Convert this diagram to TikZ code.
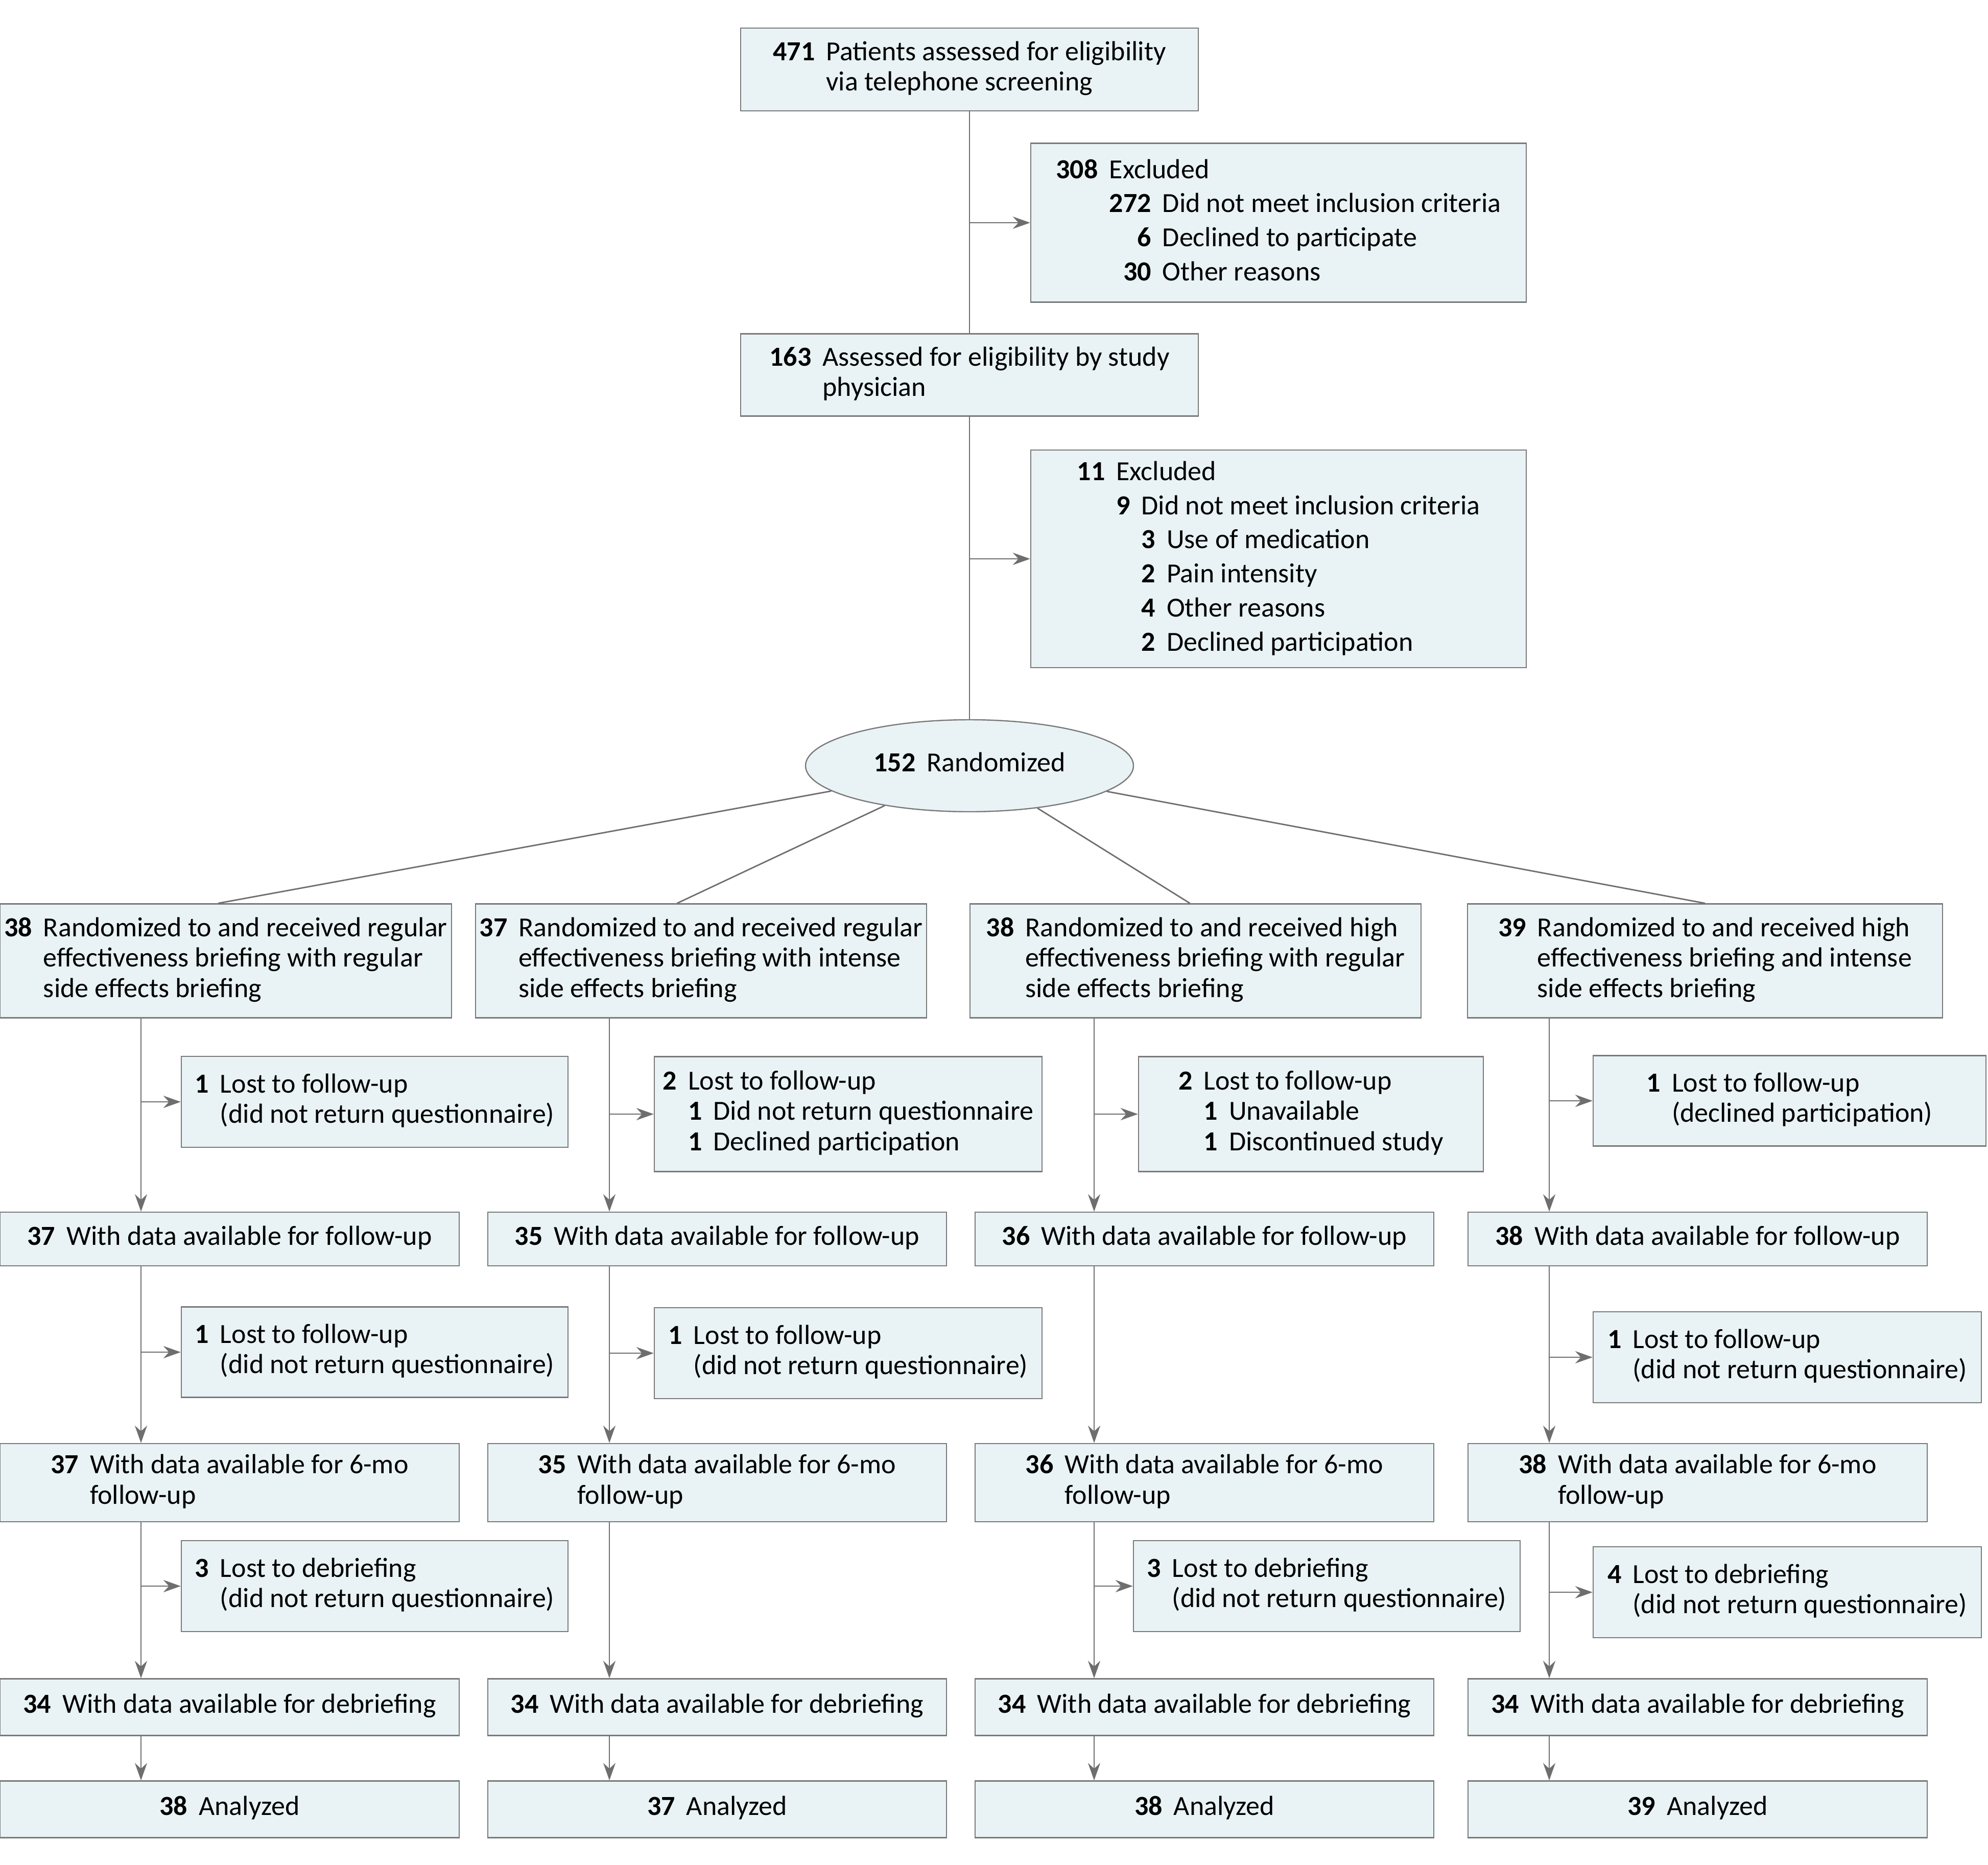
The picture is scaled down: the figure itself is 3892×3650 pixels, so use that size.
\documentclass[tikz,border=0pt]{standalone}
\usepackage{fontspec}
\setmainfont{Carlito}
\usepackage{array}
\usetikzlibrary{arrows.meta, positioning, shapes.geometric}

\definecolor{boxfill}{HTML}{E9F3F5}
\definecolor{boxline}{HTML}{7A7A7A}
\definecolor{flowline}{HTML}{6E6E6E}

% bold count, then text with hanging lines
\newcommand{\cnt}[2]{\begin{tabular}{@{}r@{\hspace{5.5pt}}l@{}}\textbf{#1} & #2\end{tabular}}

\begin{document}
\begin{tikzpicture}[
    x=0.25pt, y=-0.25pt,
    box/.style={draw=boxline, fill=boxfill, line width=0.6pt, inner sep=0pt, align=center, font=\fontsize{13.5}{14.9}\selectfont},
    exbox/.style={box, font=\fontsize{13.5}{16.7}\selectfont},
    sz/.style 2 args={minimum width=#1*0.25pt, minimum height=#2*0.25pt},
    flow/.style={draw=flowline, line width=0.7pt},
    arr/.style={flow, -{Stealth[length=8.5pt, width=6pt]}}
]
    \useasboundingbox (0,0) rectangle (3892,3650);

    % enrollment
    \node[box, sz={896}{162}] (screen) at (1898,136) {\cnt{471}{Patients assessed for eligibility\\ & via telephone screening}};
    \node[exbox, sz={970}{311}] (excl1) at (2503,436) {%
        \begin{tabular}{@{}r@{\hspace{5.5pt}}r@{\hspace{5.5pt}}l@{}}
        \textbf{308} & \multicolumn{2}{@{}l@{}}{Excluded}\\
        & \textbf{272} & Did not meet inclusion criteria\\
        & \textbf{6} & Declined to participate\\
        & \textbf{30} & Other reasons
        \end{tabular}};
    \node[box, sz={896}{161}] (phys) at (1898,734) {\cnt{163}{Assessed for eligibility by study\\ & physician}};
    \node[exbox, sz={970}{426}] (excl2) at (2503,1094) {%
        \begin{tabular}{@{}r@{\hspace{5.5pt}}r@{\hspace{5.5pt}}r@{\hspace{5.5pt}}l@{}}
        \textbf{11} & \multicolumn{3}{@{}l@{}}{Excluded}\\
        & \textbf{9} & \multicolumn{2}{@{}l@{}}{Did not meet inclusion criteria}\\
        & & \textbf{3} & Use of medication\\
        & & \textbf{2} & Pain intensity\\
        & & \textbf{4} & Other reasons\\
        & & \textbf{2} & Declined participation
        \end{tabular}};
    \node[box, ellipse, sz={642}{180}] (rand) at (1898,1499) {\cnt{152}{Randomized}};

    % allocation
    \node[box, sz={884}{223}] (arm1) at (442,1881) {\cnt{38}{Randomized to and received regular\\ & effectiveness briefing with regular\\ & side effects briefing}};
    \node[box, sz={883}{223}] (arm2) at (1372.5,1881) {\cnt{37}{Randomized to and received regular\\ & effectiveness briefing with intense\\ & side effects briefing}};
    \node[box, sz={883}{223}] (arm3) at (2340.5,1881) {\cnt{38}{Randomized to and received high\\ & effectiveness briefing with regular\\ & side effects briefing}};
    \node[box, sz={930}{223}] (arm4) at (3338,1881) {\cnt{39}{Randomized to and received high\\ & effectiveness briefing and intense\\ & side effects briefing}};

    % column lines
    \coordinate (colA) at (276,0);
    \coordinate (colB) at (1193,0);
    \coordinate (colC) at (2142,0);
    \coordinate (colD) at (3033,0);

    % losses before follow-up
    \node[box, sz={757}{178}] (lossA1) at (733.5,2157) {\cnt{1}{Lost to follow-up\\ & (did not return questionnaire)}};
    \node[box, sz={759}{225}] (lossB1) at (1660.5,2181) {%
        \begin{tabular}{@{}r@{\hspace{5.5pt}}r@{\hspace{5.5pt}}l@{}}
        \textbf{2} & \multicolumn{2}{@{}l@{}}{Lost to follow-up}\\
        & \textbf{1} & Did not return questionnaire\\
        & \textbf{1} & Declined participation
        \end{tabular}};
    \node[box, sz={675}{225}] (lossC1) at (2566.5,2181) {%
        \begin{tabular}{@{}r@{\hspace{5.5pt}}r@{\hspace{5.5pt}}l@{}}
        \textbf{2} & \multicolumn{2}{@{}l@{}}{Lost to follow-up}\\
        & \textbf{1} & Unavailable\\
        & \textbf{1} & Discontinued study
        \end{tabular}};
    \node[box, sz={769}{177}] (lossD1) at (3503.5,2155) {\cnt{1}{Lost to follow-up\\ & (declined participation)}};

    % follow-up
    \node[box, sz={899}{105}] (fuA) at (449.5,2425.5) {\cnt{37}{With data available for follow-up}};
    \node[box, sz={898}{105}] (fuB) at (1404,2425.5) {\cnt{35}{With data available for follow-up}};
    \node[box, sz={898}{105}] (fuC) at (2358,2425.5) {\cnt{36}{With data available for follow-up}};
    \node[box, sz={899}{105}] (fuD) at (3323.5,2425.5) {\cnt{38}{With data available for follow-up}};

    \node[box, sz={757}{177}] (lossA2) at (733.5,2647) {\cnt{1}{Lost to follow-up\\ & (did not return questionnaire)}};
    \node[box, sz={759}{178}] (lossB2) at (1660.5,2649) {\cnt{1}{Lost to follow-up\\ & (did not return questionnaire)}};
    \node[box, sz={760}{178}] (lossD2) at (3499,2657) {\cnt{1}{Lost to follow-up\\ & (did not return questionnaire)}};

    % 6-mo follow-up
    \node[box, sz={899}{153}] (sixA) at (449.5,2902.5) {\cnt{37}{With data available for 6-mo\\ & follow-up}};
    \node[box, sz={898}{153}] (sixB) at (1404,2902.5) {\cnt{35}{With data available for 6-mo\\ & follow-up}};
    \node[box, sz={898}{153}] (sixC) at (2358,2902.5) {\cnt{36}{With data available for 6-mo\\ & follow-up}};
    \node[box, sz={899}{153}] (sixD) at (3323.5,2902.5) {\cnt{38}{With data available for 6-mo\\ & follow-up}};

    \node[box, sz={757}{178}] (lossA3) at (733.5,3105) {\cnt{3}{Lost to debriefing\\ & (did not return questionnaire)}};
    \node[box, sz={757}{178}] (lossC3) at (2597.5,3105) {\cnt{3}{Lost to debriefing\\ & (did not return questionnaire)}};
    \node[box, sz={760}{178}] (lossD3) at (3499,3117) {\cnt{4}{Lost to debriefing\\ & (did not return questionnaire)}};

    % debriefing and analysis
    \node[box, sz={899}{111}] (debA) at (449.5,3342) {\cnt{34}{With data available for debriefing}};
    \node[box, sz={898}{111}] (debB) at (1404,3342) {\cnt{34}{With data available for debriefing}};
    \node[box, sz={898}{111}] (debC) at (2358,3342) {\cnt{34}{With data available for debriefing}};
    \node[box, sz={899}{111}] (debD) at (3323.5,3342) {\cnt{34}{With data available for debriefing}};

    \node[box, sz={899}{111}] (anaA) at (449.5,3542) {\cnt{38}{Analyzed}};
    \node[box, sz={898}{111}] (anaB) at (1404,3542) {\cnt{37}{Analyzed}};
    \node[box, sz={898}{111}] (anaC) at (2358,3542) {\cnt{38}{Analyzed}};
    \node[box, sz={899}{111}] (anaD) at (3323.5,3542) {\cnt{39}{Analyzed}};

    % connectors
    \draw[flow] (screen) -- (phys);
    \draw[flow] (phys) -- (rand);
    \draw[arr] (excl1.west -| screen) -- (excl1.west);
    \draw[arr] (excl2.west -| phys) -- (excl2.west);

    \draw[flow] (rand) -- ([xshift=-3.75pt]arm1.north);
    \draw[flow] (rand) -- ([xshift=-11.75pt]arm2.north);
    \draw[flow] (rand) -- ([xshift=-2.75pt]arm3.north);
    \draw[flow] (rand) -- (arm4.north);

    \foreach \c/\a/\f/\s/\d/\n in {A/arm1/fuA/sixA/debA/anaA, B/arm2/fuB/sixB/debB/anaB,
                                   C/arm3/fuC/sixC/debC/anaC, D/arm4/fuD/sixD/debD/anaD} {
        \draw[arr] (\a.south -| col\c) -- (\f.north -| col\c);
        \draw[arr] (\f.south -| col\c) -- (\s.north -| col\c);
        \draw[arr] (\s.south -| col\c) -- (\d.north -| col\c);
        \draw[arr] (\d.south -| col\c) -- (\n.north -| col\c);
    }

    \foreach \c/\l in {A/lossA1, B/lossB1, C/lossC1, D/lossD1, A/lossA2, B/lossB2, D/lossD2,
                       A/lossA3, C/lossC3, D/lossD3}
        \draw[arr] (\l.west -| col\c) -- (\l.west);
\end{tikzpicture}
\end{document}
